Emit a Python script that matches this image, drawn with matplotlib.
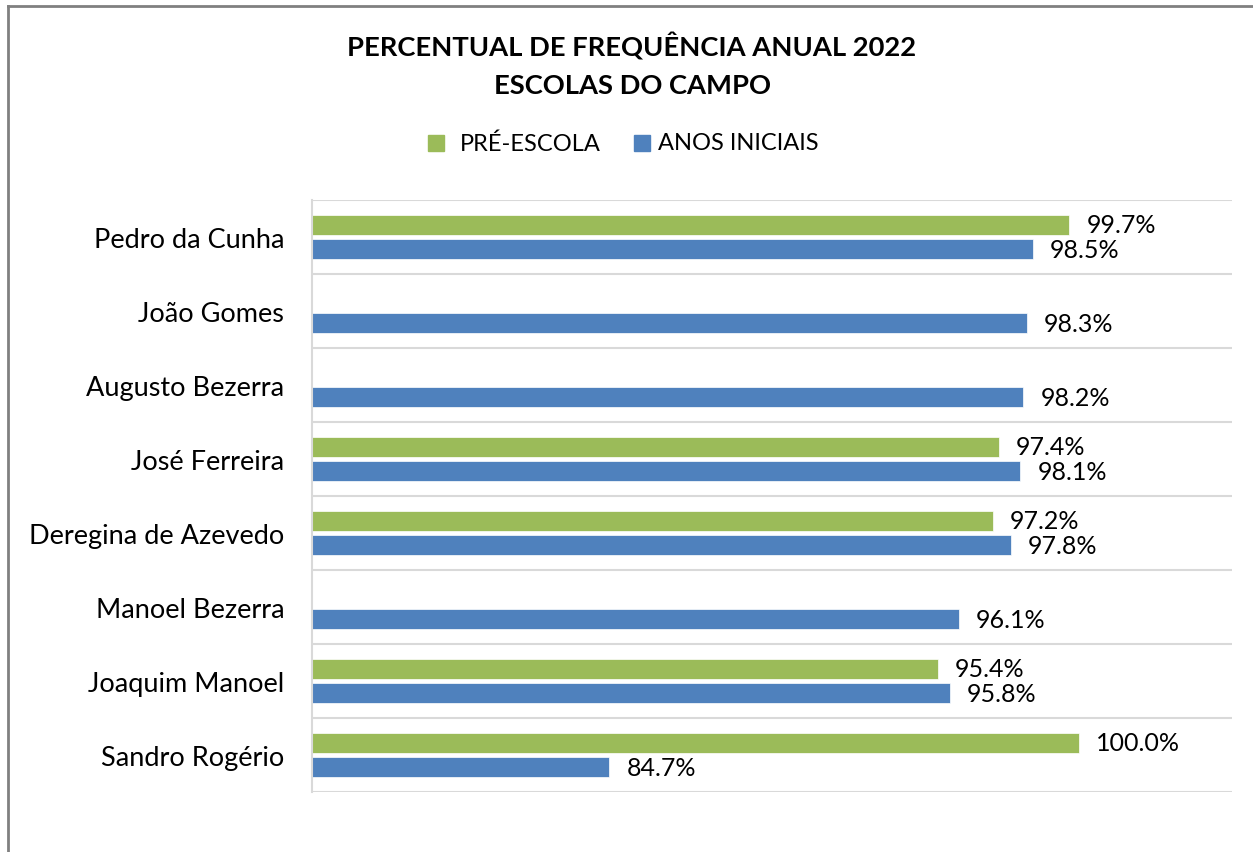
import numpy as np
import matplotlib.pyplot as plt
from matplotlib.lines import Line2D
from matplotlib.patches import Rectangle

plt.rcParams['font.family'] = ['Lato', 'DejaVu Sans']

schools = ['Pedro da Cunha', 'João Gomes', 'Augusto Bezerra', 'José Ferreira',
           'Deregina de Azevedo', 'Manoel Bezerra', 'Joaquim Manoel', 'Sandro Rogério']
pre_escola = [99.7, None, None, 97.4, 97.2, None, 95.4, 100.0]
anos_iniciais = [98.5, 98.3, 98.2, 98.1, 97.8, 96.1, 95.8, 84.7]

green = '#9BBB59'
blue = '#4F81BD'

fig = plt.figure(figsize=(12.53, 8.53), dpi=100)
ax = fig.add_axes([312 / 1253, 1 - 793 / 853, 920 / 1253, 592 / 853])

y = np.arange(len(schools))
h = 0.27
off = 0.167

for i, v in enumerate(pre_escola):
    if v is None:
        continue
    ax.barh(y[i] - off, v - 75, left=75, height=h, color=green, edgecolor='white', linewidth=0.5)
    ax.text(v + 0.55, y[i] - off, f'{v:.1f}%', va='center', ha='left', fontsize=18)

for i, v in enumerate(anos_iniciais):
    ax.barh(y[i] + off, v - 75, left=75, height=h, color=blue, edgecolor='white', linewidth=0.5)
    ax.text(v + 0.55, y[i] + off, f'{v:.1f}%', va='center', ha='left', fontsize=18)

ax.set_xlim(75, 105)
ax.set_ylim(len(schools) - 0.5, -0.5)
ax.set_xticks([])
ax.set_yticks(y)
ax.set_yticklabels(schools, fontsize=19.5)
ax.tick_params(axis='y', length=0, pad=20)
for yb in np.arange(-0.5, len(schools), 1.0):
    ax.axhline(yb, color='#d9d9d9', linewidth=1.5, zorder=0)
for s in ['top', 'right', 'bottom']:
    ax.spines[s].set_visible(False)
ax.spines['left'].set_color('#d9d9d9')
ax.spines['left'].set_linewidth(1.5)

fig.text(632 / 1253, 1 - 47 / 853, 'PERCENTUAL DE FREQUÊNCIA ANUAL 2022', ha='center', va='center',
         fontsize=19.7, fontweight='bold')
fig.text(632 / 1253, 1 - 86 / 853, 'ESCOLAS DO CAMPO', ha='center', va='center',
         fontsize=19.7, fontweight='bold')

# legend drawn by hand in figure coords
fig.add_artist(Rectangle((428 / 1253, 1 - 152 / 853), 16 / 1253, 16 / 853,
                         transform=fig.transFigure, color=green))
fig.text(460 / 1253, 1 - 144 / 853, 'PRÉ-ESCOLA', ha='left', va='center', fontsize=17)
fig.add_artist(Rectangle((634 / 1253, 1 - 152 / 853), 16 / 1253, 16 / 853,
                         transform=fig.transFigure, color=blue))
fig.text(658 / 1253, 1 - 144 / 853, 'ANOS INICIAIS', ha='left', va='center', fontsize=17)

# outer chart border (top and left visible)
fig.add_artist(Line2D([7.5 / 1253, 1], [1 - 7 / 853, 1 - 7 / 853], transform=fig.transFigure,
                      color='#808080', linewidth=2))
fig.add_artist(Line2D([7.5 / 1253, 7.5 / 1253], [0, 1 - 7 / 853], transform=fig.transFigure,
                      color='#808080', linewidth=2))

fig.savefig('out.png', dpi=100)
